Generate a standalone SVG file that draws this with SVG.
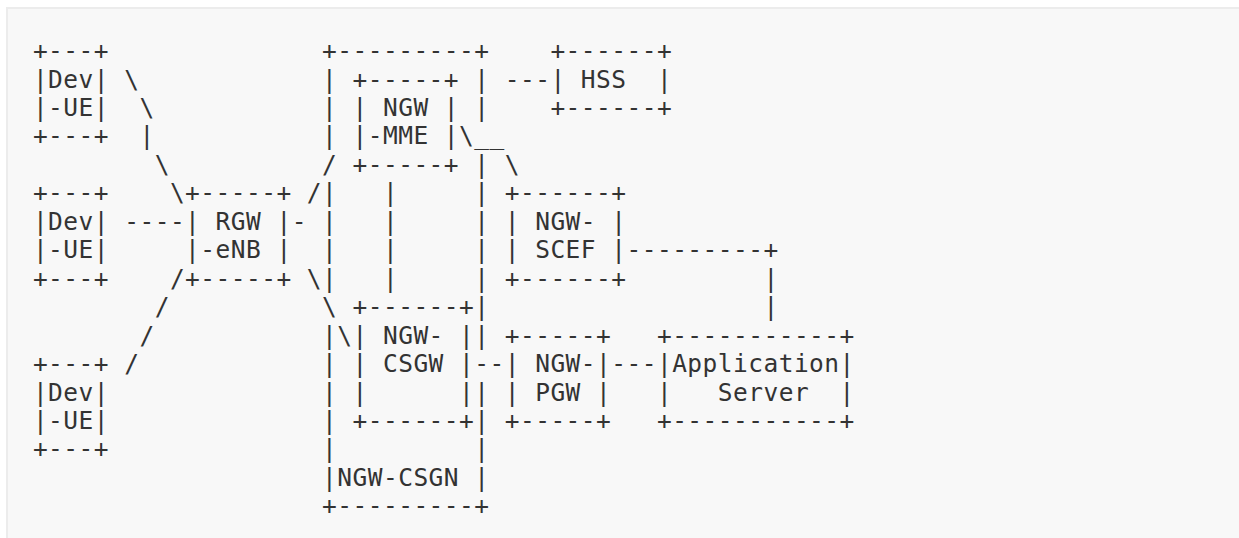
<svg xmlns="http://www.w3.org/2000/svg" width="1239" height="538" viewBox="0 0 1239 538">
<style>
text{font-family:"DejaVu Sans Mono","Liberation Mono",monospace;font-size:24.5px;letter-spacing:0.47px;fill:#333;white-space:pre}
</style>
<rect x="0" y="0" width="1239" height="538" fill="#ffffff"/>
<rect x="7" y="8" width="1250" height="550" fill="#f8f8f8" stroke="#ececec" stroke-width="2"/>
<g id="dev1">
<text x="32.9" y="59.04">+---+</text>
<text x="32.9" y="87.5">|Dev|</text>
<text x="32.9" y="115.96">|-UE|</text>
<text x="32.9" y="144.42">+---+</text>
</g>
<g id="dev2">
<text x="32.9" y="201.34">+---+</text>
<text x="32.9" y="229.8">|Dev|</text>
<text x="32.9" y="258.26">|-UE|</text>
<text x="32.9" y="286.72">+---+</text>
</g>
<g id="dev3">
<text x="32.9" y="372.1">+---+</text>
<text x="32.9" y="400.56">|Dev|</text>
<text x="32.9" y="429.02">|-UE|</text>
<text x="32.9" y="457.48">+---+</text>
</g>
<g id="rgw">
<text x="185.1" y="201.34">+-----+</text>
<text x="185.1" y="229.8">| RGW |</text>
<text x="185.1" y="258.26">|-eNB |</text>
<text x="185.1" y="286.72">+-----+</text>
</g>
<g id="csgn">
<text x="322.08" y="59.04">+---------+</text>
<text x="322.08" y="87.5">|</text><text x="474.28" y="87.5">|</text>
<text x="322.08" y="115.96">|</text><text x="474.28" y="115.96">|</text>
<text x="322.08" y="144.42">|</text>
<text x="474.28" y="172.88">|</text>
<text x="322.08" y="201.34">|</text><text x="474.28" y="201.34">|</text>
<text x="322.08" y="229.8">|</text><text x="474.28" y="229.8">|</text>
<text x="322.08" y="258.26">|</text><text x="474.28" y="258.26">|</text>
<text x="322.08" y="286.72">|</text><text x="474.28" y="286.72">|</text>
<text x="474.28" y="315.18">|</text>
<text x="322.08" y="343.64">|</text><text x="474.28" y="343.64">|</text>
<text x="322.08" y="372.1">|</text>
<text x="322.08" y="400.56">|</text><text x="474.28" y="400.56">|</text>
<text x="322.08" y="429.02">|</text><text x="474.28" y="429.02">|</text>
<text x="322.08" y="457.48">|</text><text x="474.28" y="457.48">|</text>
<text x="322.08" y="485.94">|NGW-CSGN |</text>
<text x="322.08" y="514.4">+---------+</text>
</g>
<g id="mme">
<text x="352.52" y="87.5">+-----+</text>
<text x="352.52" y="115.96">| NGW |</text>
<text x="352.52" y="144.42">|-MME |</text>
<text x="352.52" y="172.88">+-----+</text>
</g>
<g id="hss">
<text x="550.38" y="59.04">+------+</text>
<text x="550.38" y="87.5">| HSS  |</text>
<text x="550.38" y="115.96">+------+</text>
</g>
<g id="scef">
<text x="504.72" y="201.34">+------+</text>
<text x="504.72" y="229.8">| NGW- |</text>
<text x="504.72" y="258.26">| SCEF |</text>
<text x="504.72" y="286.72">+------+</text>
</g>
<g id="csgw">
<text x="352.52" y="315.18">+------+</text>
<text x="352.52" y="343.64">| NGW- |</text>
<text x="352.52" y="372.1">| CSGW |</text>
<text x="352.52" y="400.56">|      |</text>
<text x="352.52" y="429.02">+------+</text>
</g>
<g id="pgw">
<text x="504.72" y="343.64">+-----+</text>
<text x="504.72" y="372.1">| NGW-|</text>
<text x="504.72" y="400.56">| PGW |</text>
<text x="504.72" y="429.02">+-----+</text>
</g>
<g id="app">
<text x="656.92" y="343.64">+-----------+</text>
<text x="656.92" y="372.1">|Application|</text>
<text x="656.92" y="400.56">|   Server  |</text>
<text x="656.92" y="429.02">+-----------+</text>
</g>
<g id="connectors">
<text x="124.22" y="87.5">\</text>
<text x="139.44" y="115.96">\</text>
<text x="139.44" y="144.42">|</text>
<text x="154.66" y="172.88">\</text>
<text x="169.88" y="201.34">\</text>
<text x="124.22" y="229.8">----</text>
<text x="169.88" y="286.72">/</text>
<text x="154.66" y="315.18">/</text>
<text x="139.44" y="343.64">/</text>
<text x="124.22" y="372.1">/</text>
<text x="291.64" y="229.8">-</text>
<text x="306.86" y="201.34">/</text>
<text x="322.08" y="172.88">/</text>
<text x="306.86" y="286.72">\</text>
<text x="322.08" y="315.18">\</text>
<text x="337.3" y="343.64">\</text>
<text x="504.72" y="87.5">---</text>
<text x="459.06" y="144.42">\__</text>
<text x="504.72" y="172.88">\</text>
<text x="382.96" y="201.34">|</text>
<text x="382.96" y="229.8">|</text>
<text x="382.96" y="258.26">|</text>
<text x="382.96" y="286.72">|</text>
<text x="474.28" y="372.1">--</text>
<text x="611.26" y="372.1">---</text>
<text x="626.48" y="258.26">---------+</text>
<text x="763.46" y="286.72">|</text>
<text x="763.46" y="315.18">|</text>
</g>
</svg>
